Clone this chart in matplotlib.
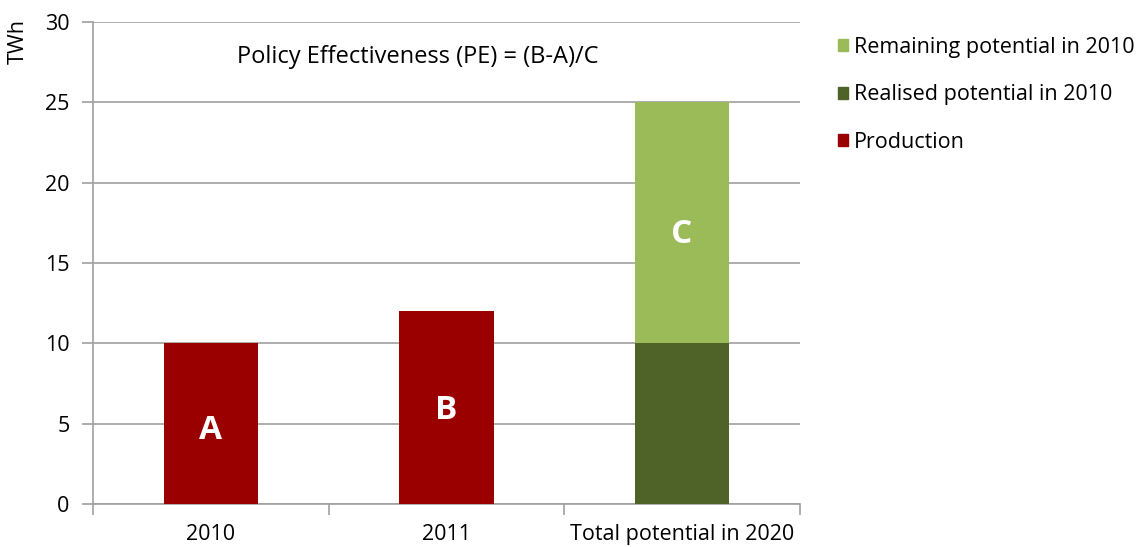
import matplotlib
matplotlib.use("Agg")
import matplotlib.pyplot as plt
from matplotlib.patches import Patch

plt.rcParams['font.family'] = ['Open Sans', 'DejaVu Sans']

categories = ["2010", "2011", "Total potential in 2020"]
production = [10, 12, 0]
realised = [0, 0, 10]
remaining = [0, 0, 15]
letters = ["A", "B", "C"]
letter_y = [4.6, 5.8, 16.75]

yticks = [0, 5, 10, 15, 20, 25, 30]

c_prod = "#9b0000"
c_real = "#4f6228"
c_rem = "#9bbb59"
grid_c = "#a0a0a0"

fig = plt.figure(figsize=(11.41, 5.47), dpi=100)
ax = fig.add_axes([0.0815, 0.0785, 0.6195, 0.8815])

x = list(range(len(categories)))
w = 0.40
ax.bar(x, production, w, color=c_prod, zorder=3)
ax.bar(x, realised, w, color=c_real, zorder=3)
ax.bar(x, remaining, w, bottom=realised, color=c_rem, zorder=3)

for xi, lt, ly in zip(x, letters, letter_y):
    ax.text(xi, ly, lt, color="white", fontsize=24, fontweight="bold",
            ha="center", va="center", zorder=4)

ax.set_xlim(-0.5, 2.5)
ax.set_ylim(0, 30)
ax.set_yticks(yticks)
ax.set_yticklabels([str(v) for v in yticks], fontsize=15.5)
ax.set_xticks(x)
ax.set_xticklabels(categories, fontsize=15.5)
ax.set_xticks([-0.5, 0.5, 1.5, 2.5], minor=True)
ax.tick_params(axis='x', which='major', length=0, pad=14)
ax.tick_params(axis='x', which='minor', length=8, color=grid_c, width=1.2)
ax.tick_params(axis='y', length=8, color=grid_c, width=1.2, pad=9)
ax.yaxis.grid(True, color=grid_c, linewidth=1.2, zorder=0)
ax.set_axisbelow(True)
for s in ["top", "right"]:
    ax.spines[s].set_visible(False)
for s in ["left", "bottom"]:
    ax.spines[s].set_color(grid_c)
    ax.spines[s].set_linewidth(1.2)

ax.text(0.111, 27.8, "Policy Effectiveness (PE) = (B-A)/C", fontsize=17,
        ha="left", va="center")

fig.text(0.016, 0.925, "TWh", rotation=90, fontsize=15.5, ha="center", va="center")

handles = [Patch(color=c_rem, label="Remaining potential in 2010"),
           Patch(color=c_real, label="Realised potential in 2010"),
           Patch(color=c_prod, label="Production")]
fig.legend(handles=handles, loc="upper left", bbox_to_anchor=(0.7265, 0.948),
           frameon=False, fontsize=15.5, handlelength=0.48, handleheight=0.48,
           handletextpad=0.3, labelspacing=1.22, borderaxespad=0)

fig.savefig("out.png", dpi=100)
